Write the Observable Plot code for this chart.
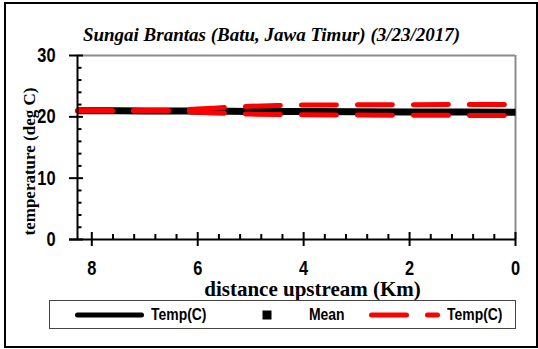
<!DOCTYPE html>
<html>
<head>
<meta charset="utf-8">
<script src="https://cdn.jsdelivr.net/npm/d3@7"></script>
<script src="https://cdn.jsdelivr.net/npm/@observablehq/plot@0.6"></script>
<style>
  body { margin: 0; background: #fff; }
  #chart { position: relative; width: 538px; height: 349px; overflow: hidden; background: #fff; }
  #border { position: absolute; left: 4px; top: 2px; width: 530px; height: 342px; border: 2px solid #000; }
  #plot { position: absolute; left: 0; top: 0; }
  #legend { position: absolute; left: 49px; top: 300px; width: 467px; height: 29px; box-sizing: border-box;
            border: 1px solid #444; background: #fff; }
  #legend .item { position: absolute; top: 0; height: 100%; display: flex; align-items: center;
                  font: bold 17px "Liberation Sans", Arial, sans-serif; color: #000; }
  #legend .label { transform: scaleX(0.82); transform-origin: left center; }
  #legend svg { display: block; }
</style>
</head>
<body>
<div id="chart">
  <div id="border"></div>
  <div id="plot"></div>
  <div id="legend"></div>
</div>
<script>
// Water temperature along the Brantas at Batu, by distance upstream (km)
const distance  = [8.27, 7.5, 7.0, 6.5, 6.2, 6.0, 5.7, 5.4, 5.0, 4.5, 4.0, 3.0, 2.0, 1.0, 0.0];
const tempMean  = [21.0, 20.99, 20.97, 20.95, 20.94, 20.93, 20.91, 20.9, 20.88, 20.86, 20.85, 20.82, 20.8, 20.78, 20.76];
const tempUpper = [21.0, 21.0, 21.0, 21.02, 21.15, 21.28, 21.42, 21.55, 21.72, 21.85, 21.93, 21.96, 21.98, 22.0, 22.0];
const tempLower = [21.0, 21.0, 20.99, 20.97, 20.85, 20.75, 20.64, 20.55, 20.45, 20.38, 20.34, 20.3, 20.26, 20.23, 20.2];

const xTicks = [0, 2, 4, 6, 8];
const yTicks = [0, 10, 20, 30];
const xMinorTicks = d3.range(0, 21).map(i => +(i * 0.4).toFixed(1)).filter((_, i) => i % 5 !== 0);
const yMinorTicks = d3.range(0, 31, 2).filter(v => v % 10 !== 0);

const titleText = "Sungai Brantas (Batu, Jawa Timur) (3/23/2017)";
const xTitle = "distance upstream (Km)";
const yTitle = "temperature (deg C)";
const legendLabels = ["Temp(C)", "Mean", "Temp(C)"];

const black = "#000000";
const red = "#ff0000";
const frameGray = "#8c8c8c";
const sans = "Liberation Sans, Arial, sans-serif";
const serif = "Liberation Serif, Times New Roman, serif";
const condense = 0.82; // tick labels use a narrow bold face

const rows = distance.map((d, i) => ({distance: d, mean: tempMean[i], upper: tempUpper[i], lower: tempLower[i]}));
const xMax = d3.max(distance);

const chart = Plot.plot({
  width: 538,
  height: 349,
  marginLeft: 77,
  marginRight: 23,
  marginTop: 55,
  marginBottom: 110,
  style: {background: "transparent", overflow: "visible"},
  x: {domain: [xMax, 0]},
  y: {domain: [0, 30]},
  marks: [
    // plot-area frame (top and right)
    Plot.ruleY([30], {stroke: frameGray, strokeWidth: 2}),
    Plot.ruleX([0], {stroke: frameGray, strokeWidth: 2}),
    // series
    Plot.lineY(rows, {x: "distance", y: "mean", stroke: black, strokeWidth: 7, strokeLinecap: "butt"}),
    Plot.lineY(rows, {x: "distance", y: "upper", stroke: red, strokeWidth: 5, strokeDasharray: "35,21", strokeLinecap: "round"}),
    Plot.lineY(rows, {x: "distance", y: "lower", stroke: red, strokeWidth: 5, strokeDasharray: "35,21", strokeLinecap: "round"}),
    // axis lines
    Plot.ruleX([xMax], {stroke: black, strokeWidth: 2}),
    Plot.ruleY([0], {stroke: black, strokeWidth: 2, insetLeft: -8}),
    // y ticks: major crossing, minor inward
    Plot.axisY(yTicks, {anchor: "left", tickSize: 14, dx: 6, text: null, label: null, strokeWidth: 2}),
    Plot.axisY(yMinorTicks, {anchor: "left", tickSize: 4.5, dx: 4.5, text: null, label: null, strokeWidth: 2}),
    Plot.text(yTicks, {y: d => d, text: d => String(d), frameAnchor: "left", textAnchor: "end", dx: -22,
      fontSize: 20, fontWeight: "bold", fontFamily: sans, fill: black}),
    // x ticks: major crossing, minor upward
    Plot.axisX(xTicks, {anchor: "bottom", tickSize: 14, dy: -7, text: null, label: null, strokeWidth: 2}),
    Plot.axisX(xMinorTicks, {anchor: "bottom", tickSize: 5, dy: -5, text: null, label: null, strokeWidth: 2}),
    Plot.axisX(xTicks, {anchor: "bottom", tickSize: 0, tickPadding: 21, label: null,
      fontSize: 20, fontWeight: "bold", fontFamily: sans}),
    // titles
    Plot.text([titleText], {text: d => d, frameAnchor: "top", textAnchor: "middle", dx: -25, dy: -15, lineAnchor: "bottom",
      fontFamily: serif, fontWeight: "bold", fontStyle: "italic", fontSize: 19, fill: black}),
    Plot.text([xTitle], {text: d => d, frameAnchor: "bottom", textAnchor: "middle", dx: 16, dy: 56, lineAnchor: "bottom",
      fontFamily: serif, fontWeight: "bold", fontSize: 21, fill: black}),
    Plot.text([yTitle], {text: d => d, frameAnchor: "left", textAnchor: "middle", dx: -48, dy: 14, rotate: -90, lineAnchor: "middle",
      fontFamily: serif, fontWeight: "bold", fontSize: 17, fill: black})
  ]
});
document.getElementById("plot").append(chart);

// narrow the sans-serif tick labels
chart.querySelectorAll('g[font-family^="Liberation Sans"] text').forEach(t => {
  const len = t.getComputedTextLength();
  t.setAttribute("textLength", (len * condense).toFixed(2));
  t.setAttribute("lengthAdjust", "spacingAndGlyphs");
});

// Legend: solid line, square marker, dashed line
const legend = document.getElementById("legend");
const ns = "http://www.w3.org/2000/svg";
function swatch(width, draw) {
  const s = document.createElementNS(ns, "svg");
  s.setAttribute("width", width);
  s.setAttribute("height", 12);
  draw(s);
  return s;
}
function el(parent, tag, attrs) {
  const e = document.createElementNS(ns, tag);
  for (const k in attrs) e.setAttribute(k, attrs[k]);
  parent.appendChild(e);
  return e;
}
function item(left, node) {
  const d = document.createElement("div");
  d.className = "item";
  d.style.left = left + "px";
  if (typeof node === "string") {
    const span = document.createElement("span");
    span.className = "label";
    span.textContent = node;
    d.appendChild(span);
  } else d.appendChild(node);
  legend.appendChild(d);
}
item(24, swatch(72, s => el(s, "line", {x1: 3.5, x2: 67.5, y1: 6, y2: 6, stroke: black, "stroke-width": 5, "stroke-linecap": "round"})));
item(101, legendLabels[0]);
item(212, swatch(10, s => el(s, "rect", {x: 0.5, y: 1.5, width: 9, height: 9, fill: black})));
item(259, legendLabels[1]);
item(318, swatch(74, s => el(s, "line", {x1: 3.5, x2: 69.5, y1: 6, y2: 6, stroke: red, "stroke-width": 5,
  "stroke-linecap": "round", "stroke-dasharray": "35,21"})));
item(397, legendLabels[2]);
</script>
</body>
</html>
